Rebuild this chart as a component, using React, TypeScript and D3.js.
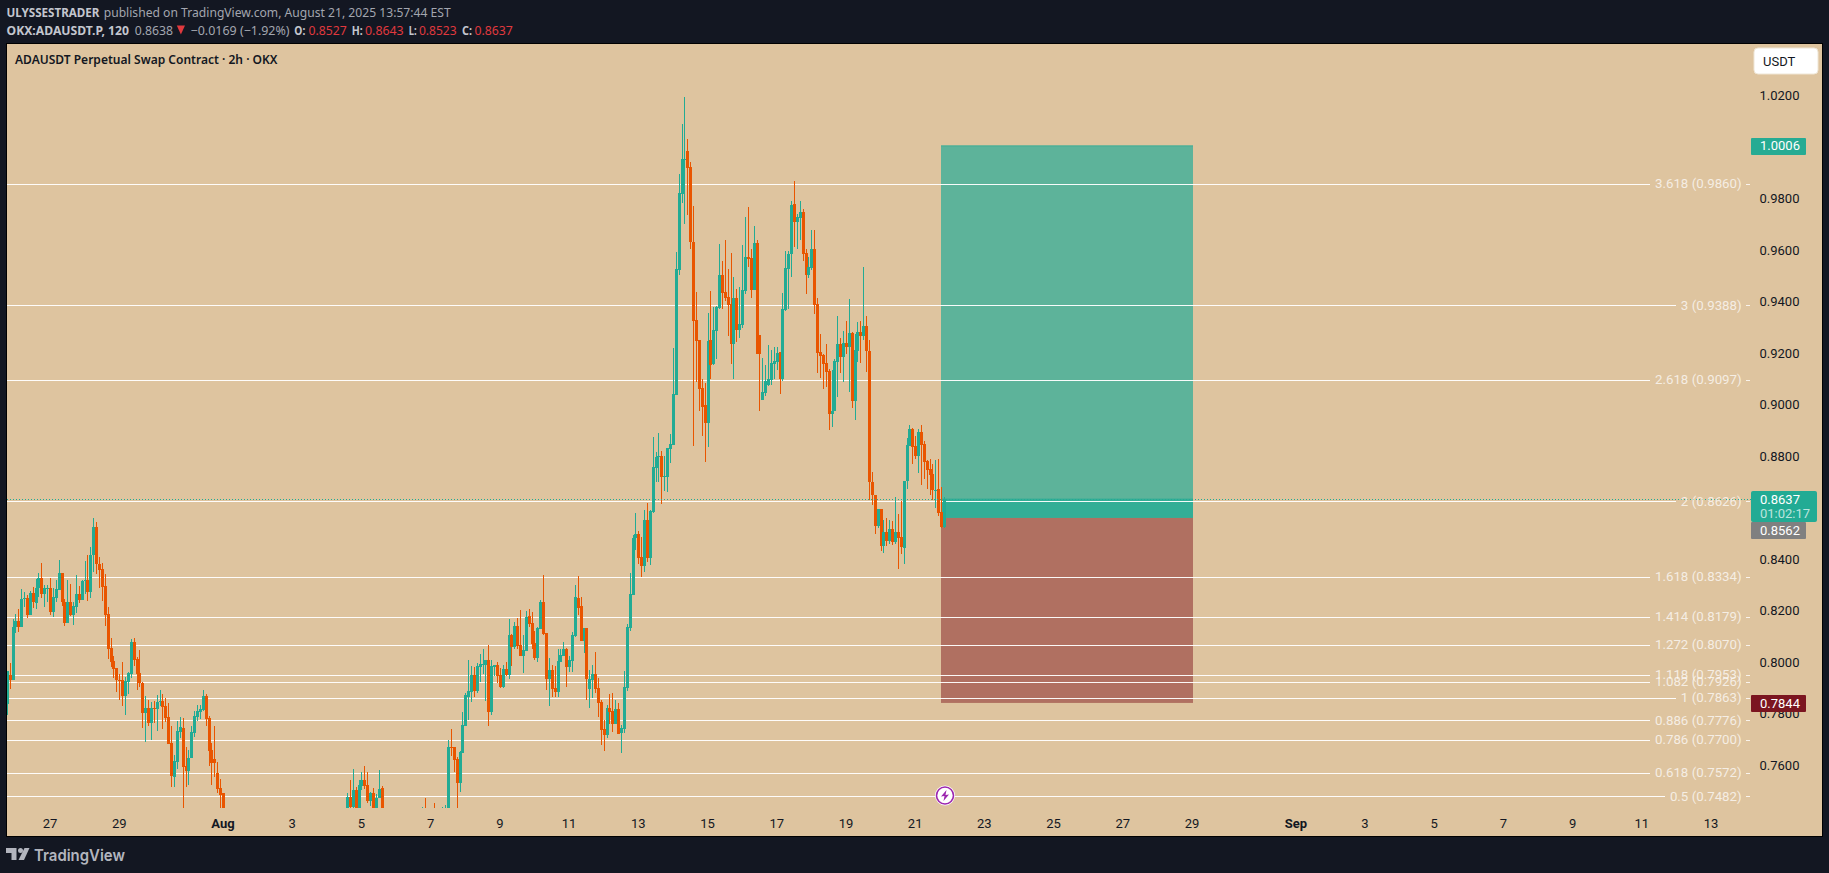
import React, { useMemo } from "react";
import * as d3 from "d3";

// [open, high, low, close] per 2h bar
const julyBars = [
[.7839,.7967,.7797,.7967],[.7952,.7998,.7898,.7933],[.7933,.8169,.7933,.8139],[.8139,.8189,.8116,.8161],[.8161,.8208,.8120,.8139],
[.8139,.8286,.8139,.8247],[.8247,.8274,.8216,.8251],[.8251,.8262,.8173,.8185],[.8185,.8278,.8185,.8270],[.8270,.8293,.8212,.8235],
[.8231,.8324,.8208,.8292],[.8290,.8348,.8255,.8328],[.8328,.8387,.8251,.8266],[.8266,.8301,.8216,.8290],[.8290,.8301,.8235,.8292],
[.8292,.8328,.8185,.8196],[.8196,.8290,.8177,.8255],[.8251,.8321,.8235,.8286],[.8282,.8398,.8282,.8348],[.8348,.8348,.8220,.8235],
[.8235,.8247,.8142,.8154],[.8154,.8321,.8154,.8235],[.8235,.8305,.8181,.8185],[.8185,.8235,.8146,.8220],[.8217,.8340,.8193,.8266],
[.8266,.8297,.8231,.8243],[.8243,.8321,.8243,.8317],[.8317,.8394,.8266,.8321],[.8321,.8418,.8239,.8274],[.8274,.8449,.8251,.8420],
[.8418,.8561,.8352,.8526],[.8526,.8546,.8344,.8383],[.8383,.8410,.8290,.8359],[.8363,.8387,.8239,.8293],[.8297,.8344,.8142,.8185],
[.8189,.8216,.8014,.8053],[.8057,.8095,.7983,.8002],[.8006,.8026,.7940,.7975],[.7979,.7979,.7886,.7933],[.7933,.7956,.7855,.7929],
[.7933,.8002,.7831,.7870],[.7870,.7944,.7797,.7929],[.7925,.7964,.7878,.7960],[.7956,.8092,.7940,.8080],[.8080,.8095,.7987,.8010],
[.8014,.8022,.7894,.7956],[.7960,.8049,.7905,.7921],[.7921,.7925,.7746,.7804],[.7804,.7870,.7692,.7824],[.7824,.7855,.7754,.7766],
[.7766,.7847,.7700,.7824],[.7824,.7851,.7766,.7820],[.7820,.7874,.7735,.7847],[.7846,.7894,.7831,.7850],[.7851,.7878,.7742,.7829],
[.7831,.7863,.7770,.7785],[.7789,.7843,.7684,.7684],[.7688,.7754,.7517,.7560],[.7556,.7641,.7517,.7618],[.7614,.7773,.7587,.7735],
[.7731,.7789,.7707,.7750],[.7746,.7785,.7350,.7595],[.7599,.7673,.7517,.7579],[.7579,.7661,.7525,.7630],[.7630,.7754,.7630,.7731],
[.7727,.7812,.7711,.7793],[.7789,.7835,.7773,.7812],[.7808,.7835,.7781,.7820],[.7816,.7894,.7812,.7870],[.7870,.7878,.7754,.7781],
[.7785,.7793,.7599,.7657],[.7661,.7688,.7525,.7610],[.7625,.7754,.7556,.7610],[.7572,.7614,.7494,.7510],[.7513,.7548,.7400,.7486],
[.7494,.7494,.7380,.7420],
];
const earlyAugBars = [
[.7430,.7494,.7400,.7479],[.7479,.7545,.7420,.7440],[.7440,.7587,.7425,.7506],[.7506,.7517,.7400,.7430],[.7430,.7545,.7410,.7525],
[.7521,.7576,.7506,.7545],[.7545,.7599,.7510,.7521],[.7525,.7576,.7455,.7463],[.7463,.7498,.7444,.7494],[.7494,.7513,.7410,.7430],
[.7430,.7490,.7410,.7475],[.7475,.7583,.7475,.7510],[.7513,.7521,.7410,.7430],
];
const tipBars = [
[.7380,.7440,.7360,.7410],[.7420,.7475,.7380,.7400],[.7420,.7455,.7380,.7400],[.7390,.7440,.7370,.7420],[.7400,.7448,.7380,.7425],
];
const augRallyBars = [
[.7400,.7700,.7380,.7673],[.7673,.7742,.7638,.7669],[.7673,.7673,.7576,.7622],[.7626,.7634,.7420,.7533],[.7533,.7657,.7498,.7653],
[.7651,.7808,.7651,.7758],[.7754,.7882,.7754,.7874],[.7868,.8010,.7777,.7890],[.7886,.7987,.7847,.7952],[.7952,.7983,.7867,.7890],
[.7890,.8000,.7882,.7987],[.7983,.8033,.7925,.7995],[.7991,.8053,.7956,.7995],[.7991,.8010,.7851,.8010],[.8010,.8068,.7754,.7808],
[.7808,.8010,.7797,.7987],[.7985,.7991,.7948,.7990],[.7991,.8002,.7921,.7948],[.7952,.7979,.7901,.7905],[.7905,.7991,.7901,.7975],
[.7975,.8002,.7948,.7952],[.7952,.8169,.7936,.8107],[.8107,.8111,.7987,.8061],[.8061,.8158,.8053,.8142],[.8142,.8173,.8053,.8064],
[.8068,.8204,.8026,.8026],[.8026,.8107,.7960,.8049],[.8045,.8200,.8045,.8177],[.8181,.8208,.8138,.8150],[.8153,.8196,.8053,.8072],
[.8076,.8123,.8010,.8018],[.8018,.8138,.8002,.8134],[.8130,.8243,.8130,.8235],[.8235,.8340,.8107,.8111],[.8115,.8115,.7894,.7936],
[.7936,.8018,.7832,.7971],[.7971,.7991,.7867,.7898],[.7901,.7987,.7867,.7886],[.7886,.8053,.7867,.8006],[.8002,.8053,.8002,.8030],
[.8026,.8080,.8026,.8053],[.8053,.8057,.7905,.7983],[.7983,.8026,.7964,.8010],[.8006,.8119,.7964,.8107],[.8103,.8301,.8099,.8255],
[.8251,.8336,.8185,.8212],[.8220,.8255,.8084,.8084],[.8084,.8134,.8037,.8134],[.8134,.8134,.7855,.7935],[.7898,.7971,.7824,.7936],
[.7933,.7991,.7863,.7956],[.7956,.8041,.7882,.7898],[.7901,.7940,.7789,.7843],[.7847,.7855,.7680,.7739],[.7742,.7777,.7657,.7719],
[.7719,.7836,.7708,.7824],[.7824,.7878,.7762,.7808],[.7812,.7882,.7731,.7762],[.7762,.7855,.7762,.7820],[.7820,.7843,.7723,.7723],
[.7727,.7758,.7649,.7746],[.7742,.7967,.7727,.7905],[.7901,.8150,.7890,.8138],[.8134,.8348,.8123,.8266],
];
const peakBars = [
[.8262,.8495,.8262,.8484],[.8484,.8581,.8437,.8499],[.8499,.8511,.8383,.8406],[.8410,.8488,.8332,.8375],[.8375,.8592,.8352,.8554],
[.8554,.8619,.8391,.8406],[.8406,.8592,.8379,.8588],[.8585,.8876,.8581,.8759],[.8755,.8817,.8701,.8798],[.8798,.8891,.8701,.8802],
[.8802,.8821,.8616,.8720],[.8720,.8802,.8666,.8724],[.8720,.8833,.8662,.8833],[.8829,.8887,.8775,.8848],[.8845,.9221,.8845,.9042],
[.9039,.9594,.9039,.9530],[.9524,.9896,.9504,.9822],[.9819,1.0090,.9784,.9954],[.9951,1.0195,.9702,.9954],[.9985,1.0032,.9737,.9920],
[.9923,.9943,.9605,.9632],[.9632,.9772,.8841,.9326],[.9330,.9438,.9089,.9248],[.9252,.9252,.8976,.9062],[.9066,.9100,.8879,.8992],
[.9000,.9085,.8779,.8930],[.8930,.9357,.8837,.9248],[.9252,.9442,.9101,.9155],[.9159,.9380,.9155,.9291],[.9287,.9384,.9180,.9380],
[.9376,.9625,.9372,.9504],[.9504,.9559,.9372,.9434],[.9438,.9640,.9403,.9415],[.9419,.9528,.9268,.9388],[.9392,.9590,.9159,.9237],
[.9237,.9497,.9101,.9415],[.9415,.9450,.9244,.9291],[.9291,.9458,.9260,.9314],[.9310,.9621,.9299,.9446],[.9442,.9729,.9431,.9574],
[.9574,.9768,.9535,.9566],[.9570,.9605,.9415,.9446],[.9446,.9694,.9446,.9628],[.9628,.9640,.9198,.9198],[.9271,.9271,.8976,.9198],
[.9019,.9182,.9019,.9050],[.9046,.9155,.9035,.9093],[.9077,.9233,.9073,.9101],[.9097,.9213,.9077,.9163],[.9159,.9225,.9101,.9171],
[.9167,.9225,.9136,.9202],[.9205,.9205,.9042,.9101],[.9101,.9434,.9093,.9371],[.9369,.9597,.9365,.9531],[.9528,.9597,.9372,.9586],
[.9586,.9791,.9497,.9776],[.9780,.9869,.9613,.9710],[.9710,.9741,.9605,.9729],[.9725,.9791,.9640,.9749],[.9749,.9761,.9559,.9586],
[.9590,.9605,.9431,.9504],[.9504,.9574,.9493,.9535],[.9531,.9679,.9524,.9605],[.9605,.9679,.9353,.9388],[.9392,.9415,.9124,.9202],
[.9205,.9275,.9105,.9190],[.9194,.9198,.9062,.9159],[.9163,.9237,.9070,.9128],[.9132,.9139,.8903,.8965],[.8965,.9136,.8914,.8976],
[.8976,.9178,.8976,.9171],[.9167,.9345,.9031,.9236],[.9236,.9260,.9123,.9186],[.9186,.9287,.9089,.9240],[.9240,.9326,.9198,.9225],
[.9225,.9411,.9050,.9279],[.9279,.9283,.8988,.9015],[.9015,.9275,.8942,.9213],[.9209,.9322,.9167,.9283],[.9283,.9326,.9163,.9268],
[.9268,.9535,.9252,.9306],[.9306,.9345,.9128,.9209],[.9209,.9252,.8631,.8701],[.8701,.8740,.8612,.8651],[.8651,.8651,.8499,.8530],
[.8530,.8596,.8522,.8596],[.8596,.8596,.8433,.8453],[.8453,.8554,.8425,.8507],[.8507,.8561,.8453,.8472],[.8472,.8554,.8460,.8519],
[.8519,.8550,.8456,.8468],[.8468,.8643,.8460,.8507],[.8507,.8577,.8363,.8484],[.8488,.8627,.8422,.8449],[.8445,.8705,.8383,.8705],
[.8705,.8872,.8674,.8845],[.8841,.8922,.8841,.8907],[.8907,.8911,.8771,.8837],[.8841,.8879,.8790,.8802],[.8802,.8907,.8736,.8895],
[.8895,.8922,.8689,.8845],[.8848,.8860,.8713,.8779],[.8782,.8786,.8674,.8748],[.8751,.8790,.8651,.8728],[.8732,.8771,.8631,.8670],
[.8666,.8786,.8600,.8670],[.8674,.8790,.8569,.8581],[.8585,.8682,.8523,.8527],[.8527,.8643,.8523,.8637],
];
// bar slots counted in 2h steps from Jul 27 00:00 UTC
const julySlots = d3.range(-15, 61);
const earlyAugSlots = d3.range(103, 116);
const tipSlots = [129, 130, 133, 136, 137];
const rallySlots = d3.range(138, 202);
const peakSlots = d3.range(202, 311);

const axisPrices = d3.range(0, 14).map((i) => +(1.02 - i * 0.02).toFixed(2));
const fibLevels = ["3.618", "3", "2.618", "2", "1.618", "1.414", "1.272", "1.118", "1.082", "1", "0.886", "0.786", "0.618", "0.5"];
const fibPrices = [0.986, 0.9388, 0.9097, 0.8626, 0.8334, 0.8179, 0.807, 0.7953, 0.7926, 0.7863, 0.7776, 0.77, 0.7572, 0.7482];
const targetPrice = 1.0006;
const entryPrice = 0.8562;
const stopPrice = 0.7844;
const lastPrice = 0.8637;
const countdown = "01:02:17";
const dayTicks: [string, string, boolean][] = [
  ["2025-07-27", "27", false], ["2025-07-29", "29", false], ["2025-08-01", "Aug", true], ["2025-08-03", "3", false],
  ["2025-08-05", "5", false], ["2025-08-07", "7", false], ["2025-08-09", "9", false], ["2025-08-11", "11", false],
  ["2025-08-13", "13", false], ["2025-08-15", "15", false], ["2025-08-17", "17", false], ["2025-08-19", "19", false],
  ["2025-08-21", "21", false], ["2025-08-23", "23", false], ["2025-08-25", "25", false], ["2025-08-27", "27", false],
  ["2025-08-29", "29", false], ["2025-09-01", "Sep", true], ["2025-09-03", "3", false], ["2025-09-05", "5", false],
  ["2025-09-07", "7", false], ["2025-09-09", "9", false], ["2025-09-11", "11", false], ["2025-09-13", "13", false],
];
const ohlcLabels: [string, number, number, string, number, number][] = [
  ["O:", 294.3, 11, "0.8527", 308.5, 38.2],
  ["H:", 351.7, 11, "0.8643", 365, 38.7],
  ["L:", 408.7, 8, "0.8523", 419, 37.6],
  ["C:", 462, 10, "0.8637", 474.5, 38.3],
];

const W = 1829, H = 873;
const DARK = "#131722";
const PANEL = "#dec49f";
const UP = "#22ab94";
const DOWN = "#e95500";
const ROBOTO = "Roboto, sans-serif";
const NOTO = "'Noto Sans', sans-serif";
const HOUR2 = 2 * 3600 * 1000;
const T0 = Date.UTC(2025, 6, 27);

const panel = { l: 7, t: 44, r: 1822, b: 836 };
const candleFloor = 808;
const FIT = "spacingAndGlyphs";

function measure(text: string, font: string) {
  const c = document.createElement("canvas").getContext("2d")!;
  c.font = font;
  return c.measureText(text).width;
}

export default function App() {
  const y = useMemo(() => d3.scaleLinear().domain([1.02, 0.76]).range([95.9, 765.8]), []);
  const x = useMemo(
    () => d3.scaleUtc().domain([new Date("2025-07-27"), new Date("2025-08-29")]).range([50, 1192]),
    []
  );
  const bars = useMemo(() => {
    const slots = [...julySlots, ...earlyAugSlots, ...tipSlots, ...rallySlots, ...peakSlots];
    const rows = [...julyBars, ...earlyAugBars, ...tipBars, ...augRallyBars, ...peakBars];
    return rows.map((r, i) => ({ date: new Date(T0 + slots[i] * HOUR2), o: r[0], h: r[1], l: r[2], c: r[3] }));
  }, []);
  const boxL = 941, boxR = 1193;
  const labelR = 1741.7;
  const labelFont = "13.3px Roboto";

  return (
    <svg width={W} height={H} viewBox={`0 0 ${W} ${H}`} style={{ position: "fixed", left: 0, top: 0, display: "block" }}>
      <defs>
        <clipPath id="plot"><rect x={panel.l} y={panel.t} width={panel.r - panel.l} height={candleFloor - panel.t} /></clipPath>
      </defs>
      <rect width={W} height={H} fill={DARK} />
      <rect x={panel.l - 1} y={panel.t - 1} width={panel.r - panel.l + 2} height={panel.b - panel.t + 2} fill="#000" />
      <rect x={panel.l} y={panel.t} width={panel.r - panel.l} height={panel.b - panel.t} fill={PANEL} />

      {/* header */}
      <g fontFamily={NOTO} fontSize={12.5}>
        <text x={6.5} y={17} fontWeight={700} fill="#c3c6ce" textLength={93} lengthAdjust={FIT}>ULYSSESTRADER</text>
        <text x={103.7} y={17} fill="#a3a6af" textLength={347} lengthAdjust={FIT}>published on TradingView.com, August 21, 2025 13:57:44 EST</text>
        <text x={6.5} y={34.5} fontWeight={700} fill="#c3c6ce" textLength={122.5} lengthAdjust={FIT}>OKX:ADAUSDT.P, 120</text>
        <text x={134.7} y={34.5} fill="#a3a6af" textLength={38.3} lengthAdjust={FIT}>0.8638</text>
        <path d="M176.8 25.5 L185 25.5 L180.9 34.5 Z" fill="#e0393e" />
        <text x={190.6} y={34.5} fill="#a3a6af" textLength={99} lengthAdjust={FIT}>−0.0169 (−1.92%)</text>
        {ohlcLabels.map((d) => (
          <g key={d[0]}>
            <text x={d[1]} y={34.5} fontWeight={700} fill="#c3c6ce" textLength={d[2]} lengthAdjust={FIT}>{d[0]}</text>
            <text x={d[4]} y={34.5} fill="#e0393e" textLength={d[5]} lengthAdjust={FIT}>{d[3]}</text>
          </g>
        ))}
      </g>
      <text x={15} y={64} fontFamily={NOTO} fontSize={12.5} fontWeight={600} fill="#131722" textLength={262.5} lengthAdjust={FIT}>ADAUSDT Perpetual Swap Contract · 2h · OKX</text>

      {/* position tool */}
      <rect x={boxL} y={y(targetPrice)} width={boxR - boxL} height={y(entryPrice) - y(targetPrice)} fill="#5db39a" />
      <rect x={boxL} y={y(targetPrice) - 0.5} width={boxR - boxL} height={1} fill="#3bae95" />
      <rect x={boxL} y={y(lastPrice)} width={boxR - boxL} height={y(entryPrice) - y(lastPrice)} fill="#33ae96" />
      <rect x={boxL} y={y(entryPrice)} width={boxR - boxL} height={y(stopPrice) - y(entryPrice)} fill="#b07061" />

      {/* fib levels */}
      <g shapeRendering="crispEdges">
        {fibLevels.map((lv, i) => {
          const label = `${lv} (${fibPrices[i].toFixed(4)})`;
          const yy = Math.round(y(fibPrices[i])) + 0.5;
          const end = labelR - measure(label, labelFont) - 5;
          return (
            <g key={lv}>
              <line x1={panel.l} x2={end} y1={yy} y2={yy} stroke="#fff" strokeWidth={1} strokeOpacity={0.95} />
              <line x1={1746} x2={1750} y1={yy} y2={yy} stroke="#fff" strokeOpacity={0.8} />
            </g>
          );
        })}
      </g>

      {/* candles */}
      <g clipPath="url(#plot)" shapeRendering="crispEdges">
        {bars.map((b, i) => {
          const cx = Math.round(x(b.date));
          const up = b.c >= b.o;
          const top = y(Math.max(b.o, b.c));
          const bot = y(Math.min(b.o, b.c));
          const color = up ? UP : DOWN;
          return (
            <g key={i} fill={color}>
              <rect x={cx} y={y(b.h)} width={1} height={y(b.l) - y(b.h)} />
              <rect x={cx - 1} y={top} width={3} height={Math.max(1, bot - top)} />
            </g>
          );
        })}
      </g>

      {/* last price dotted line */}
      <line x1={panel.l} x2={1751} y1={Math.round(y(lastPrice)) + 0.5} y2={Math.round(y(lastPrice)) + 0.5} stroke={UP} strokeWidth={1} strokeDasharray="1 2" shapeRendering="crispEdges" />

      {/* fib labels */}
      <g fontFamily={ROBOTO} fontSize={13.3} fill="#fff" fillOpacity={0.72} textAnchor="end">
        {fibLevels.map((lv, i) => (
          <text key={lv} x={labelR} y={y(fibPrices[i]) + 4.4}>{`${lv} (${fibPrices[i].toFixed(4)})`}</text>
        ))}
      </g>

      {/* price axis */}
      <g fontFamily={ROBOTO} fontSize={13} fill="#131722">
        {axisPrices.map((p) => (
          <text key={p} x={1759.5} y={y(p) + 4.1}>{p.toFixed(4)}</text>
        ))}
      </g>
      <g fontFamily={ROBOTO} fontSize={13} fill="#fff">
        <rect x={1751} y={y(targetPrice) - 8} width={55} height={17} rx={1} fill="#26ab93" />
        <text x={1760} y={y(targetPrice) + 4.6}>{targetPrice.toFixed(4)}</text>
        <rect x={1751} y={491} width={66} height={31} rx={2} fill={UP} />
        <text x={1760} y={504}>{lastPrice.toFixed(4)}</text>
        <text x={1760} y={518} fillOpacity={0.7}>{countdown}</text>
        <rect x={1751} y={522} width={55} height={17} rx={1} fill="#808080" />
        <text x={1760} y={534.6}>{entryPrice.toFixed(4)}</text>
        <rect x={1751} y={y(stopPrice) - 8} width={55} height={17} rx={1} fill="#7b1520" />
        <text x={1760} y={y(stopPrice) + 4.6}>{stopPrice.toFixed(4)}</text>
      </g>

      {/* currency button */}
      <rect x={1754} y={48} width={64} height={26} rx={4} fill="#fff" stroke="#efe6d6" />
      <text x={1763} y={65.5} fontFamily={ROBOTO} fontSize={13} fill="#131722">USDT</text>

      {/* time axis */}
      <g fontFamily={ROBOTO} fontSize={13} fill="#131722" textAnchor="middle">
        {dayTicks.map((t) => (
          <text key={t[0]} x={x(new Date(t[0]))} y={827.5} fontWeight={t[2] ? 700 : 400}>{t[1]}</text>
        ))}
      </g>

      {/* lightning marker */}
      <circle cx={945} cy={795.5} r={10} fill="#fff" />
      <circle cx={945} cy={795.5} r={8.5} fill="#fff" stroke="#9c27b0" strokeWidth={1.6} />
      <path d="M946.5 790 L941 796.5 L944.5 796 L943.5 801 L949 794.5 L945.5 795 Z" fill="#9c27b0" />

      {/* footer logo */}
      <g fill="#b2b5be">
        <path d="M6 848 H16.5 V860 H11.5 V853 H6 Z" />
        <circle cx={20.5} cy={850.5} r={2.5} />
        <path d="M24.5 848 H29.5 L24 860 H18.5 Z" />
        <text x={34} y={861} fontFamily="Inter, sans-serif" fontSize={16.5} fontWeight={600} textLength={91} lengthAdjust={FIT}>TradingView</text>
      </g>
    </svg>
  );
}
